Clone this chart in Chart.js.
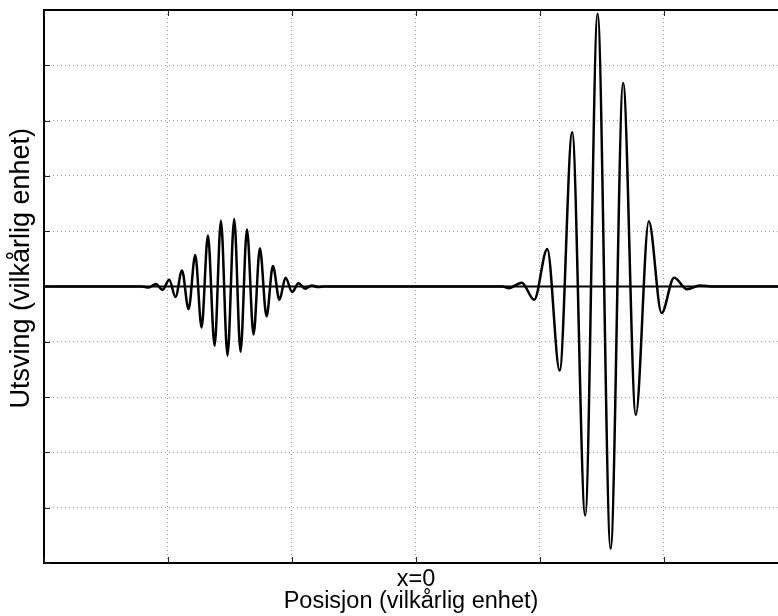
<!DOCTYPE html>
<html>
<head>
<meta charset="utf-8">
<script src="https://cdn.jsdelivr.net/npm/chart.js@4.4.0/dist/chart.umd.min.js"></script>
<style>
  html, body { margin: 0; padding: 0; background: #fff; overflow: hidden; }
  #wrap { width: 778px; height: 616px; }
</style>
</head>
<body>
<div id="wrap"><canvas id="waveChart" width="778" height="616"></canvas></div>
<script>
// axis ranges (arbitrary units, one grid step = 1)
var xRange = [-3, 2.92];
var yRange = [-5, 5];
var xTickLabels = { 0: 'x=0' };
var xTitle = 'Posisjon (vilkårlig enhet)';
var yTitle = 'Utsving (vilkårlig enhet)';

// small wave packet on the left: extrema
var leftX = [-3, -2.21, -2.156, -2.098, -2.043, -1.990, -1.939, -1.887, -1.834, -1.780, -1.729,
  -1.678, -1.624, -1.573, -1.520, -1.466, -1.415, -1.363, -1.310, -1.259, -1.205, -1.154,
  -1.101, -1.052, -0.998, -0.948, -0.894, -0.841, -0.789, -0.74];
var leftY = [0, 0, -0.02, 0.045, -0.06, 0.12, -0.19, 0.29, -0.41, 0.57, -0.74,
  0.92, -1.07, 1.19, -1.25, 1.22, -1.18, 1.03, -0.87, 0.69, -0.54, 0.37,
  -0.24, 0.16, -0.10, 0.06, -0.04, 0.02, -0.01, 0];

// large wave packet on the right
var rightX = [0.70, 0.748, 0.853, 0.954, 1.059, 1.159, 1.260, 1.365, 1.465, 1.570, 1.671,
  1.773, 1.878, 1.981, 2.082, 2.187, 2.289, 2.40, 2.92];
var rightY = [0, -0.03, 0.07, -0.24, 0.68, -1.52, 2.79, -4.14, 4.93, -4.74, 3.68,
  -2.32, 1.18, -0.48, 0.16, -0.05, 0.02, 0, 0];

// horizontal reference line at zero
var zeroX = [-3, 2.92];
var zeroY = [0, 0];

function toPoints(xs, ys) {
  return xs.map(function (x, i) { return { x: x, y: ys[i] }; });
}

var wavePoints = toPoints(leftX, leftY).concat(toPoints(rightX, rightY));

// keep only whole-number ticks (drop the extra one Chart.js adds at max)
function wholeTicks(s) {
  s.ticks = s.ticks.filter(function (t) { return Number.isInteger(t.value); });
}

// top frame line, inward tick marks and the y label (sits a bit above centre in the original)
var frameTicks = {
  id: 'frameTicks',
  afterDraw: function (chart) {
    var ctx = chart.ctx;
    var a = chart.chartArea;
    var xs = chart.scales.x;
    var ys = chart.scales.y;
    ctx.save();
    ctx.strokeStyle = '#222';
    ctx.lineWidth = 1;
    ctx.beginPath();
    xs.ticks.forEach(function (t) {
      var p = Math.round(xs.getPixelForValue(t.value)) + 0.5;
      ctx.moveTo(p, a.bottom); ctx.lineTo(p, a.bottom - 6);
      ctx.moveTo(p, a.top); ctx.lineTo(p, a.top + 6);
    });
    ys.ticks.forEach(function (t) {
      var p = Math.round(ys.getPixelForValue(t.value)) + 0.5;
      ctx.moveTo(a.left, p); ctx.lineTo(a.left + 6, p);
    });
    ctx.stroke();
    ctx.lineWidth = 2;
    ctx.strokeStyle = '#000';
    ctx.beginPath();
    ctx.moveTo(a.left - 1, a.top);
    ctx.lineTo(a.right, a.top);
    ctx.stroke();

    ctx.translate(22, ys.getPixelForValue(0.33));
    ctx.rotate(-Math.PI / 2);
    ctx.fillStyle = '#000';
    ctx.font = '27px "Liberation Sans", Arial, sans-serif';
    ctx.textAlign = 'center';
    ctx.textBaseline = 'middle';
    ctx.fillText(yTitle, 0, 0);
    ctx.restore();
  }
};

var ctx = document.getElementById('waveChart').getContext('2d');
var waveChart = new Chart(ctx, {
  type: 'line',
  data: {
    datasets: [
      {
        data: toPoints(zeroX, zeroY),
        borderColor: '#000',
        borderWidth: 2.2,
        pointRadius: 0
      },
      {
        data: wavePoints,
        borderColor: '#000',
        borderWidth: 2.5,
        pointRadius: 0,
        cubicInterpolationMode: 'monotone'
      }
    ]
  },
  options: {
    responsive: false,
    animation: false,
    layout: { padding: { top: 10, right: 0, left: 0, bottom: 0 } },
    plugins: { legend: { display: false }, tooltip: { enabled: false } },
    scales: {
      x: {
        type: 'linear',
        min: xRange[0],
        max: xRange[1],
        afterFit: function (s) { s.height = 53; },
        afterBuildTicks: wholeTicks,
        ticks: {
          stepSize: 1,
          autoSkip: false,
          maxRotation: 0,
          padding: 5,
          color: '#000',
          font: { family: 'Liberation Sans, Arial, sans-serif', size: 23.5, lineHeight: 0.95 },
          callback: function (v) { return xTickLabels[v] || ''; }
        },
        grid: { color: '#999', lineWidth: 1, drawTicks: false },
        border: { display: true, color: '#000', width: 2, dash: [1, 3] },
        title: {
          display: true,
          text: xTitle,
          color: '#000',
          padding: 0,
          font: { family: 'Liberation Sans, Arial, sans-serif', size: 23.5, lineHeight: 1.2 }
        }
      },
      y: {
        min: yRange[0],
        max: yRange[1],
        afterFit: function (s) { s.width = 44; },
        afterBuildTicks: wholeTicks,
        ticks: { stepSize: 1, display: false },
        grid: { color: '#999', lineWidth: 1, drawTicks: false },
        border: { display: true, color: '#000', width: 2, dash: [1, 3] }
      }
    }
  },
  plugins: [frameTicks]
});
</script>
</body>
</html>
